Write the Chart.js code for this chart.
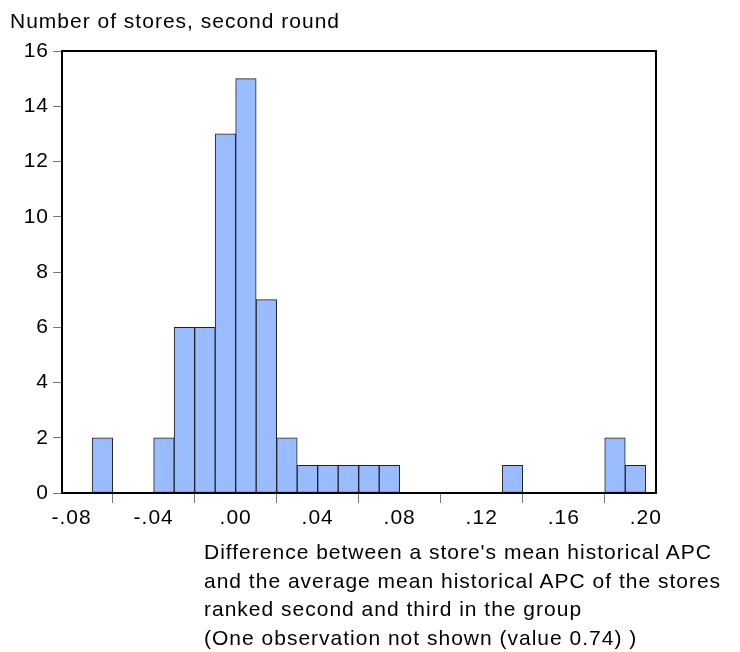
<!DOCTYPE html>
<html>
<head>
<meta charset="utf-8">
<script src="https://cdn.jsdelivr.net/npm/chart.js@4.4.1/dist/chart.umd.min.js"></script>
<style>
  html, body { margin: 0; padding: 0; background: #fff; }
  #wrap { position: relative; width: 740px; height: 652px; font-family: "Liberation Sans", Arial, sans-serif; color: #000; }
  #chart { position: absolute; left: 0; top: 0; }
  #ytitle { position: absolute; left: 10px; top: 9px; font-size: 21px; line-height: 24px; letter-spacing: 1px; white-space: nowrap; }
  #xtitle { position: absolute; left: 204px; top: 538px; font-size: 21px; line-height: 28.5px; letter-spacing: 1px; white-space: nowrap; }
</style>
</head>
<body>
<div id="wrap">
  <canvas id="chart" width="740" height="652"></canvas>
  <div id="ytitle">Number of stores, second round</div>
  <div id="xtitle">Difference between a store's mean historical APC<br>and the average mean historical APC of the stores<br>ranked second and third in the group<br>(One observation not shown (value 0.74) )</div>
</div>
<script>
// Histogram bins (left edges, width 0.01)
const binStarts = [-0.08, -0.07, -0.06, -0.05, -0.04, -0.03, -0.02, -0.01, 0.00, 0.01,
                   0.02, 0.03, 0.04, 0.05, 0.06, 0.07, 0.08, 0.09, 0.10, 0.11,
                   0.12, 0.13, 0.14, 0.15, 0.16, 0.17, 0.18, 0.19];
const binWidth = 0.01;
const counts = [0, 2, 0, 0, 2, 6, 6, 13, 15, 7,
                2, 1, 1, 1, 1, 1, 0, 0, 0, 0,
                0, 1, 0, 0, 0, 0, 2, 1];
const xTicks = [-0.08, -0.04, 0.00, 0.04, 0.08, 0.12, 0.16, 0.20];
const yTicks = [0, 2, 4, 6, 8, 10, 12, 14, 16];
const xMin = -0.0847, xMax = 0.205;

const points = binStarts.map((s, i) => ({ x: s + binWidth / 2, y: counts[i] }));

function fmtX(v) {
  let s = Math.abs(v).toFixed(2).replace(/^0/, '');
  return (v < -1e-9 ? '-' : '') + s;
}

const spacingPlugin = {
  id: 'spacing',
  beforeInit(chart) { chart.ctx.letterSpacing = '1px'; },
  beforeLayout(chart) { chart.ctx.letterSpacing = '1px'; },
  beforeDraw(chart) { chart.ctx.letterSpacing = '1px'; }
};

const framePlugin = {
  id: 'frame',
  afterDatasetsDraw(chart) {
    const a = chart.chartArea, ctx = chart.ctx;
    ctx.save();
    ctx.strokeStyle = '#000';
    ctx.lineWidth = 2;
    ctx.strokeRect(a.left, a.top, a.right - a.left, a.bottom - a.top);
    ctx.restore();
  }
};

new Chart(document.getElementById('chart'), {
  type: 'bar',
  data: {
    datasets: [{
      data: points,
      backgroundColor: '#99BBFF',
      borderColor: '#222',
      borderWidth: 1,
      borderSkipped: false,
      barPercentage: 1,
      categoryPercentage: 1
    }]
  },
  options: {
    responsive: false,
    animation: false,
    devicePixelRatio: 1,
    layout: { padding: { top: 51, right: 84, left: 0, bottom: 0 } },
    plugins: { legend: { display: false }, tooltip: { enabled: false } },
    scales: {
      x: {
        type: 'linear',
        min: xMin, max: xMax,
        offset: false,
        afterFit(s) { s.height = 652 - 493; },
        afterBuildTicks(s) { s.ticks = xTicks.map(v => ({ value: v })); },
        grid: { drawOnChartArea: false, drawTicks: true, tickLength: 10, color: '#777', lineWidth: 1 },
        border: { display: false },
        ticks: { callback: v => fmtX(v), color: '#000', font: { family: 'Liberation Sans', size: 21 }, padding: 3, maxRotation: 0, autoSkip: false }
      },
      y: {
        min: 0, max: 16,
        afterFit(s) { s.width = 62; },
        afterBuildTicks(s) { s.ticks = yTicks.map(v => ({ value: v })); },
        grid: { drawOnChartArea: false, drawTicks: true, tickLength: 9, color: '#777', lineWidth: 1 },
        border: { display: false },
        ticks: { color: '#000', font: { family: 'Liberation Sans', size: 21 }, padding: 4 }
      }
    }
  },
  plugins: [spacingPlugin, framePlugin]
});
</script>
</body>
</html>
